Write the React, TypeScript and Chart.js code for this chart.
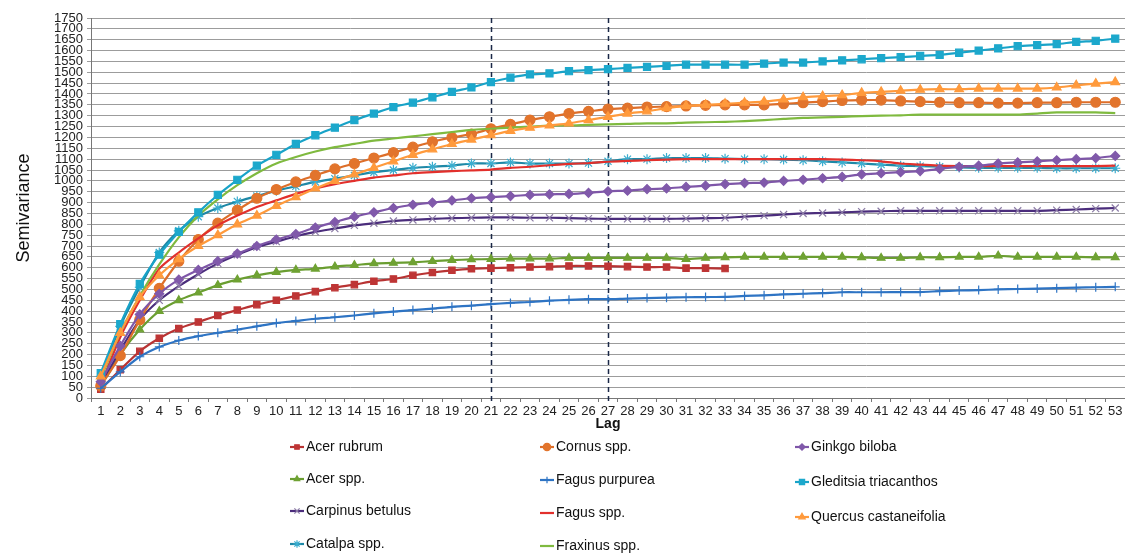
import React, { useEffect, useRef } from 'react';
import { Chart, registerables } from 'chart.js';
import { drawPoint } from 'chart.js/helpers';

Chart.register(...registerables);

const LAGS = ['1','2','3','4','5','6','7','8','9','10','11','12','13','14','15','16','17','18','19','20','21','22','23','24','25','26','27','28','29','30','31','32','33','34','35','36','37','38','39','40','41','42','43','44','45','46','47','48','49','50','51','52','53'];

const Y_MIN = 0;
const Y_MAX = 1750;
const Y_STEP = 50;
const DASHED_LAGS = ['21', '27'];

const acerRubrum = [40,130,215,275,320,350,380,405,430,450,470,490,508,522,538,548,565,578,588,595,598,600,603,605,608,608,607,605,603,603,598,598,596];
const acerSpp = [55,200,315,400,450,485,520,545,565,580,590,595,605,612,620,622,625,630,635,638,640,642,642,642,645,645,645,645,645,645,640,645,648,650,650,650,650,650,650,648,645,645,648,648,650,650,655,650,650,650,650,648,648];
const carpinusBetulus = [60,220,360,450,515,570,620,660,695,720,745,765,780,795,805,815,820,825,828,830,832,832,830,830,828,826,825,825,825,825,826,828,830,835,840,845,850,852,855,858,860,862,862,862,862,862,862,862,862,865,868,872,875];
const catalpaSpp = [100,330,510,670,770,835,875,905,930,955,975,995,1010,1025,1040,1050,1060,1065,1070,1080,1080,1085,1080,1080,1080,1082,1090,1100,1100,1105,1105,1105,1102,1100,1100,1098,1095,1090,1085,1080,1075,1070,1068,1065,1062,1060,1060,1060,1060,1058,1058,1058,1058];
const cornusSpp = [55,195,360,505,630,730,805,865,920,960,995,1025,1055,1080,1105,1130,1155,1180,1200,1215,1240,1260,1280,1295,1310,1320,1330,1335,1340,1342,1345,1348,1350,1350,1350,1355,1360,1365,1370,1372,1372,1368,1365,1362,1360,1360,1358,1358,1360,1360,1362,1362,1362];
const fagusPurpurea = [45,120,190,235,265,285,300,315,330,345,355,365,372,380,390,398,405,412,420,425,432,438,442,448,452,455,455,458,460,462,464,465,466,470,473,477,480,483,487,487,487,488,488,492,495,497,500,502,504,506,508,510,512];
const fagusSpp = [60,280,450,595,670,735,795,840,880,910,940,965,985,1000,1015,1025,1035,1040,1045,1048,1052,1060,1065,1072,1078,1082,1088,1092,1095,1098,1100,1100,1100,1100,1100,1100,1100,1100,1098,1095,1090,1080,1075,1070,1068,1068,1068,1068,1068,1068,1068,1068,1070];
const fraxinusSpp = [90,300,470,615,740,840,915,980,1035,1080,1110,1135,1155,1170,1185,1195,1205,1215,1225,1235,1240,1245,1250,1255,1255,1258,1260,1262,1265,1265,1268,1270,1272,1275,1280,1285,1290,1292,1295,1298,1300,1302,1305,1305,1305,1305,1305,1305,1310,1315,1315,1315,1312];
const ginkgoBiloba = [75,240,385,480,545,590,630,665,700,730,755,785,810,835,855,875,890,900,910,920,925,930,935,938,940,945,952,955,962,965,972,978,985,990,992,1000,1005,1012,1018,1030,1035,1040,1045,1055,1065,1070,1080,1085,1090,1095,1100,1105,1115];
const gleditsiaTriacanthos = [115,340,525,660,765,855,935,1005,1070,1120,1170,1210,1245,1280,1310,1340,1360,1385,1410,1430,1455,1475,1490,1495,1505,1510,1515,1520,1525,1530,1535,1535,1535,1535,1540,1545,1545,1550,1555,1560,1565,1570,1575,1580,1590,1600,1610,1620,1625,1630,1640,1645,1655];
const quercusCastaneifolia = [100,300,465,565,640,700,750,800,840,885,925,965,1000,1030,1060,1090,1120,1145,1170,1190,1210,1230,1245,1255,1265,1280,1295,1310,1320,1335,1345,1350,1355,1360,1365,1375,1385,1390,1395,1405,1410,1415,1420,1422,1422,1425,1425,1425,1425,1430,1440,1448,1455];

const FONT = "'Liberation Sans Narrow', 'Liberation Sans', Arial, sans-serif";

type S = { label: string; data: number[]; color: string; pointColor: string; style: any; radius: number; col: number; row: number };

const SERIES: S[] = [
  { label: 'Acer rubrum', data: acerRubrum, color: '#B83333', pointColor: '#BE3535', style: 'rect', radius: 4.5, col: 0, row: 0 },
  { label: 'Acer spp.', data: acerSpp, color: '#6A9E31', pointColor: '#6FA233', style: 'triangle', radius: 4.5, col: 0, row: 1 },
  { label: 'Carpinus betulus', data: carpinusBetulus, color: '#4B2D7C', pointColor: '#8C7CA6', style: 'crossRot', radius: 5, col: 0, row: 2 },
  { label: 'Catalpa spp.', data: catalpaSpp, color: '#1E88A6', pointColor: '#3AADCF', style: 'star', radius: 5, col: 0, row: 3 },
  { label: 'Cornus spp.', data: cornusSpp, color: '#DD6E29', pointColor: '#E2742C', style: 'circle', radius: 5, col: 1, row: 0 },
  { label: 'Fagus purpurea', data: fagusPurpurea, color: '#2E74C4', pointColor: '#2E74C4', style: 'cross', radius: 4.5, col: 1, row: 1 },
  { label: 'Fagus spp.', data: fagusSpp, color: '#E2302C', pointColor: '#E2302C', style: false, radius: 0, col: 1, row: 2 },
  { label: 'Fraxinus spp.', data: fraxinusSpp, color: '#7FBA3F', pointColor: '#7FBA3F', style: false, radius: 0, col: 1, row: 3 },
  { label: 'Ginkgo biloba', data: ginkgoBiloba, color: '#7E56A8', pointColor: '#8059AA', style: 'rectRot', radius: 4.5, col: 2, row: 0 },
  { label: 'Gleditsia triacanthos', data: gleditsiaTriacanthos, color: '#18A3C8', pointColor: '#1CA8CC', style: 'rect', radius: 5, col: 2, row: 1 },
  { label: 'Quercus castaneifolia', data: quercusCastaneifolia, color: '#FF9A3C', pointColor: '#FF9A3C', style: 'triangle', radius: 5, col: 2, row: 2 },
];

const LEGEND_X = [290, 540, 795];
const LEGEND_Y = [[447, 479, 511, 544], [447, 480, 513, 546], [447, 482, 517]];

const overlayPlugin = {
  id: 'overlay',
  beforeDatasetsDraw(chart: any) {
    const { ctx, chartArea, scales } = chart;
    ctx.save();
    ctx.strokeStyle = '#1B2847';
    ctx.lineWidth = 1.5;
    ctx.setLineDash([5, 4]);
    DASHED_LAGS.forEach((l) => {
      const x = Math.round(scales.x.getPixelForValue(LAGS.indexOf(l))) + 0.5;
      ctx.beginPath();
      ctx.moveTo(x, chartArea.top);
      ctx.lineTo(x, chartArea.bottom + 3);
      ctx.stroke();
    });
    ctx.restore();
  },
  afterDraw(chart: any) {
    const { ctx } = chart;
    ctx.save();
    SERIES.forEach((s) => {
      const x0 = LEGEND_X[s.col];
      const y = LEGEND_Y[s.col][s.row];
      ctx.setLineDash([]);
      ctx.strokeStyle = s.color;
      ctx.lineWidth = 2.2;
      ctx.beginPath();
      ctx.moveTo(x0, y);
      ctx.lineTo(x0 + 14, y);
      ctx.stroke();
      if (s.style) {
        ctx.fillStyle = s.pointColor;
        ctx.strokeStyle = s.pointColor;
        ctx.lineWidth = 1.2;
        drawPoint(ctx, { pointStyle: s.style, radius: Math.max(3, s.radius - 1.3), rotation: 0, borderWidth: 1.2 } as any, x0 + 7, y);
      }
      ctx.fillStyle = '#111';
      ctx.font = `14px ${FONT}`;
      ctx.textBaseline = 'middle';
      ctx.textAlign = 'left';
      ctx.fillText(s.label, x0 + 16, y);
    });
    ctx.restore();
  },
};

export default function App() {
  const ref = useRef<HTMLCanvasElement | null>(null);
  useEffect(() => {
    if (!ref.current) return;
    const n = SERIES.length;
    const chart = new Chart(ref.current, {
      type: 'line',
      data: {
        labels: LAGS,
        datasets: SERIES.map((s, i) => ({
          label: s.label,
          data: s.data,
          borderColor: s.color,
          backgroundColor: s.pointColor,
          pointBackgroundColor: s.pointColor,
          pointBorderColor: s.pointColor,
          pointStyle: s.style,
          pointRadius: s.radius,
          pointBorderWidth: 1.2,
          borderWidth: 2.2,
          tension: 0.25,
          fill: false,
          order: n - 1 - i,
        })),
      },
      options: {
        animation: false,
        responsive: false,
        maintainAspectRatio: false,
        layout: { autoPadding: false, padding: { top: 18, left: 0, right: 0, bottom: 118 } },
        plugins: { legend: { display: false }, tooltip: { enabled: false } },
        scales: {
          x: {
            type: 'category',
            offset: true,
            grid: { display: true, drawOnChartArea: false, drawTicks: true, tickLength: 4, color: '#777', offset: true },
            border: { display: true, color: '#777', width: 1 },
            ticks: { autoSkip: false, maxRotation: 0, color: '#222', padding: 2, font: { family: FONT, size: 13 } },
            title: { display: true, text: 'Lag', color: '#111', font: { family: FONT, size: 14, weight: 'bold' }, padding: { top: 3, bottom: 3 } },
            afterFit: (scale: any) => { scale.height = 38; scale.paddingRight = 0; scale.paddingLeft = 0; },
          },
          y: {
            min: Y_MIN,
            max: Y_MAX,
            ticks: { stepSize: Y_STEP, autoSkip: false, color: '#222', padding: 4, font: { family: FONT, size: 13 }, callback: (v: any) => String(v) },
            grid: { color: '#9c9c9c', lineWidth: 1, tickLength: 4, drawTicks: true },
            border: { display: true, color: '#777', width: 1 },
            title: { display: true, text: 'Semivariance', color: '#111', font: { family: "'Liberation Sans', Arial, sans-serif", size: 18 }, padding: { top: 13, bottom: 0 } },
            afterFit: (scale: any) => { scale.width = 91; },
          },
        },
      },
      plugins: [overlayPlugin],
    } as any);
    return () => chart.destroy();
  }, []);
  return (
    <div style={{ position: 'absolute', left: 0, top: 0, width: 1125, height: 554, background: '#fff' }}>
      <canvas ref={ref} width={1125} height={554} style={{ display: 'block' }} />
    </div>
  );
}
